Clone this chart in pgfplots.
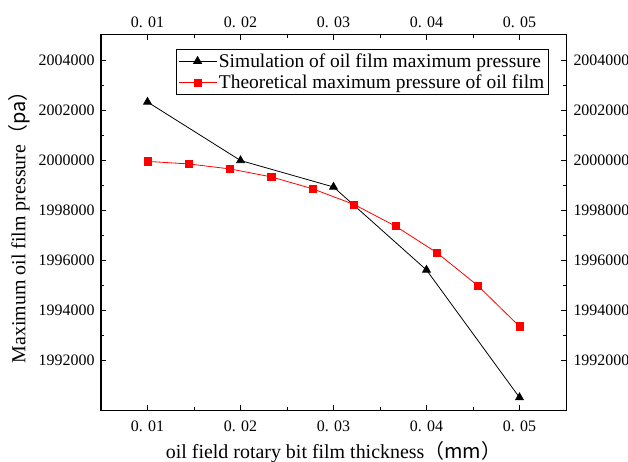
\documentclass[border=0pt]{standalone}
\usepackage{fontspec}
\setmainfont{Liberation Serif}
\newfontfamily\cjk{Noto Sans CJK SC}
\usepackage{pgfplots}
\pgfplotsset{compat=1.18}

\begin{document}
\begin{tikzpicture}
\pgfplotsset{
 common/.style={
  scale only axis, width=465bp, height=375bp,
  xmin=0.005, xmax=0.055, ymin=1990000, ymax=2005000,
  xtick={0.01,0.02,0.03,0.04,0.05},
  xticklabels={\textrm{0. 01},\textrm{0. 02},\textrm{0. 03},\textrm{0. 04},\textrm{0. 05}},
  ytick={1992000,1994000,1996000,1998000,2000000,2002000,2004000},
  yticklabels={\textrm{1992000},\textrm{1994000},\textrm{1996000},\textrm{1998000},\textrm{2000000},\textrm{2002000},\textrm{2004000}},
  scaled y ticks=false, scaled x ticks=false,
  minor x tick num=1, minor y tick num=1,
  tick align=inside,
  major tick length=5bp, minor tick length=3bp,
  tick style={black, line width=0.8pt},
  axis line style={line width=1pt},
  ticklabel style={font=\fontsize{16}{18}\selectfont},
  /pgf/number format/assume math mode=true,
 }
}
\begin{axis}[common, name=main,
  xticklabel style={yshift=-7bp},
  yticklabel style={xshift=-3bp},
  xlabel={oil field rotary bit film thickness{\cjk （mm）}},
  ylabel={Maximum oil film pressure{\cjk （pa）}},
  label style={font=\fontsize{20}{23}\selectfont},
  xlabel shift=3bp,
  ylabel shift=2bp,
  legend style={at={(0.161,0.962)}, anchor=north west, draw=black, line width=0.6pt,
    font=\fontsize{19.5}{22}\selectfont, inner sep=2pt, row sep=2.5pt},
  legend cell align=left,
  legend image code/.code={\draw[mark repeat=2,mark phase=2,#1] plot coordinates {(0bp,0bp) (19bp,0bp) (38bp,0bp)};},
]
\addplot[black, line width=0.8pt, mark=triangle*, mark size=4.5bp] coordinates {
 (0.01,2002320) (0.02,1999980) (0.03,1998920) (0.04,1995600) (0.05,1990500)
};
\addlegendentry{Simulation of oil film maximum pressure}
\addplot[red, line width=0.8pt, mark=square*, mark size=3.6bp] coordinates {
 (0.01,1999945) (0.014444,1999842) (0.018889,1999642) (0.023333,1999323)
 (0.027778,1998845) (0.032222,1998219) (0.036667,1997354) (0.041111,1996293)
 (0.045556,1994961) (0.05,1993342)
};
\addlegendentry{Theoretical maximum pressure of oil film}
\end{axis}
\begin{axis}[common, xticklabel pos=top, yticklabel pos=right,
  xticklabel style={yshift=4bp}, yticklabel style={xshift=4bp}]
\end{axis}
\pgfresetboundingbox
\path[use as bounding box] ([shift={(-101bp,-52bp)}]main.south west) rectangle ([shift={(62bp,35bp)}]main.north east);
\end{tikzpicture}
\end{document}
